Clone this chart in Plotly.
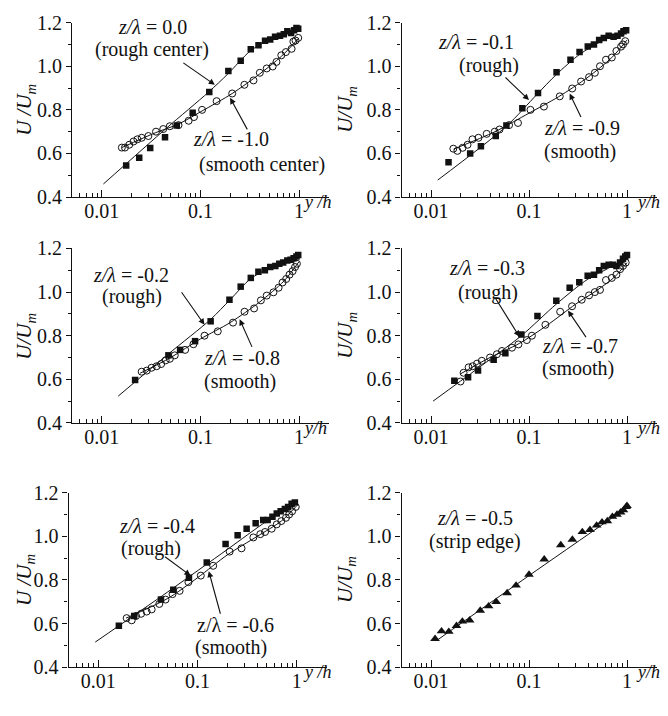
import math
import plotly.graph_objects as go

W, H = 668, 716
FONT = "Liberation Serif"

# ---------------- data ----------------
# Panel 1: z/lambda = 0.0 (rough center) and -1.0 (smooth center)
p1_rough_x = [0.0177, 0.024, 0.031, 0.0438, 0.0576, 0.0835, 0.123, 0.192, 0.256, 0.324, 0.388,
              0.452, 0.51, 0.571, 0.64, 0.70, 0.76, 0.83, 0.89, 0.94, 0.98]
p1_rough_y = [0.545, 0.58, 0.625, 0.675, 0.728, 0.787, 0.882, 0.978, 1.025, 1.078, 1.096,
              1.117, 1.123, 1.135, 1.14, 1.147, 1.16, 1.153, 1.165, 1.175, 1.172]
p1_smooth_x = [0.016, 0.0172, 0.019, 0.021, 0.023, 0.0254, 0.0297, 0.0355, 0.042, 0.049, 0.060,
               0.076, 0.086, 0.104, 0.146, 0.21, 0.279, 0.345, 0.40, 0.47, 0.54, 0.59, 0.66,
               0.735, 0.84, 0.875, 0.92, 0.98]
p1_smooth_y = [0.627, 0.627, 0.64, 0.655, 0.665, 0.672, 0.68, 0.70, 0.712, 0.725, 0.73,
               0.75, 0.767, 0.80, 0.84, 0.875, 0.915, 0.935, 0.97, 0.99, 0.999, 1.02, 1.05,
               1.065, 1.08, 1.113, 1.118, 1.13]
p1_rough_fit_x = [0.0104, 0.045, 0.12, 0.19, 0.32, 0.47, 0.7, 1.0]
p1_rough_fit_y = [0.46, 0.715, 0.88, 0.965, 1.07, 1.115, 1.145, 1.17]
p1_smooth_fit_x = [0.016, 0.035, 0.06, 0.104, 0.21, 0.40, 0.66, 1.0]
p1_smooth_fit_y = [0.627, 0.695, 0.735, 0.795, 0.875, 0.965, 1.045, 1.13]

# Panel 2: z/lambda = -0.1 (rough) and -0.9 (smooth)
p2_rough_x = [0.0151, 0.0251, 0.0323, 0.0458, 0.0588, 0.0855, 0.1236, 0.191, 0.265, 0.328,
              0.398, 0.46, 0.52, 0.58, 0.65, 0.73, 0.80, 0.87, 0.92, 0.98]
p2_rough_y = [0.56, 0.60, 0.633, 0.68, 0.728, 0.807, 0.877, 0.973, 1.03, 1.065,
              1.09, 1.10, 1.12, 1.13, 1.14, 1.135, 1.14, 1.15, 1.16, 1.165]
p2_smooth_x = [0.0169, 0.0186, 0.021, 0.0236, 0.0265, 0.0305, 0.037, 0.0447, 0.050, 0.0626,
               0.0772, 0.1035, 0.142, 0.206, 0.276, 0.34, 0.41, 0.47, 0.53, 0.61, 0.70,
               0.78, 0.87, 0.91, 0.96]
p2_smooth_y = [0.622, 0.612, 0.626, 0.64, 0.665, 0.672, 0.69, 0.70, 0.71, 0.73,
               0.74, 0.80, 0.815, 0.862, 0.898, 0.93, 0.95, 0.97, 1.00, 1.03, 1.04,
               1.07, 1.09, 1.10, 1.115]
p2_rough_fit_x = [0.0117, 0.0588, 0.12, 0.19, 0.33, 0.55, 1.0]
p2_rough_fit_y = [0.478, 0.725, 0.87, 0.962, 1.055, 1.115, 1.165]
p2_smooth_fit_x = [0.017, 0.045, 0.1, 0.2, 0.4, 0.7, 1.0]
p2_smooth_fit_y = [0.62, 0.70, 0.785, 0.86, 0.95, 1.04, 1.12]

# Panel 3: z/lambda = -0.2 (rough) and -0.8 (smooth)
p3_rough_x = [0.0218, 0.0474, 0.0623, 0.0883, 0.127, 0.197, 0.256, 0.324, 0.387, 0.45,
              0.51, 0.575, 0.63, 0.69, 0.76, 0.82, 0.88, 0.94, 0.98]
p3_rough_y = [0.597, 0.71, 0.735, 0.775, 0.866, 0.965, 1.025, 1.065, 1.093, 1.10,
              1.115, 1.12, 1.13, 1.136, 1.145, 1.148, 1.155, 1.163, 1.17]
p3_smooth_x = [0.0254, 0.0286, 0.032, 0.036, 0.040, 0.0445, 0.049, 0.055, 0.070, 0.085,
               0.11, 0.15, 0.214, 0.28, 0.35, 0.41, 0.47, 0.55, 0.62, 0.68, 0.74,
               0.80, 0.86, 0.91, 0.95]
p3_smooth_y = [0.635, 0.64, 0.653, 0.66, 0.67, 0.687, 0.694, 0.71, 0.735, 0.761,
               0.80, 0.82, 0.86, 0.91, 0.925, 0.962, 0.984, 0.999, 1.02, 1.044, 1.06,
               1.08, 1.096, 1.115, 1.13]
p3_rough_fit_x = [0.0147, 0.047, 0.127, 0.2, 0.32, 0.5, 0.75, 1.0]
p3_rough_fit_y = [0.523, 0.715, 0.875, 0.965, 1.06, 1.11, 1.14, 1.165]
p3_smooth_fit_x = [0.0245, 0.05, 0.1, 0.2, 0.4, 0.7, 1.0]
p3_smooth_fit_y = [0.628, 0.70, 0.785, 0.86, 0.955, 1.05, 1.14]

# Panel 4: z/lambda = -0.3 (rough) and -0.7 (smooth)
p4_rough_x = [0.0173, 0.0239, 0.0302, 0.0436, 0.0574, 0.0836, 0.122, 0.19, 0.26, 0.326,
              0.397, 0.46, 0.52, 0.58, 0.65, 0.72, 0.78, 0.85, 0.91, 0.96, 1.0]
p4_rough_y = [0.593, 0.61, 0.64, 0.69, 0.72, 0.805, 0.89, 0.96, 1.02, 1.045,
              1.075, 1.08, 1.10, 1.12, 1.125, 1.125, 1.12, 1.136, 1.153, 1.163, 1.17]
p4_smooth_x = [0.020, 0.0215, 0.0242, 0.0266, 0.0295, 0.033, 0.040, 0.047, 0.053, 0.067,
               0.078, 0.095, 0.107, 0.147, 0.208, 0.275, 0.345, 0.41, 0.47, 0.53, 0.61,
               0.70, 0.78, 0.85, 0.91, 0.97]
p4_smooth_y = [0.59, 0.63, 0.655, 0.66, 0.672, 0.685, 0.70, 0.715, 0.73, 0.745,
               0.76, 0.78, 0.80, 0.85, 0.91, 0.935, 0.965, 0.985, 1.00, 1.01, 1.055,
               1.065, 1.08, 1.105, 1.12, 1.135]
p4_rough_fit_x = [0.0105, 0.03, 0.0836, 0.19, 0.40, 0.65, 1.0]
p4_rough_fit_y = [0.50, 0.65, 0.80, 0.945, 1.06, 1.11, 1.16]
p4_smooth_fit_x = [0.02, 0.04, 0.08, 0.15, 0.3, 0.5, 0.75, 1.0]
p4_smooth_fit_y = [0.625, 0.70, 0.765, 0.845, 0.945, 1.01, 1.07, 1.135]

# Panel 5: z/lambda = -0.4 (rough) and -0.6 (smooth)
p5_rough_x = [0.0161, 0.023, 0.0428, 0.057, 0.082, 0.124, 0.192, 0.254, 0.313, 0.386,
              0.46, 0.51, 0.57, 0.63, 0.69, 0.76, 0.82, 0.89, 0.96]
p5_rough_y = [0.59, 0.635, 0.71, 0.755, 0.81, 0.88, 0.965, 1.005, 1.035, 1.06,
              1.075, 1.075, 1.09, 1.105, 1.115, 1.125, 1.135, 1.15, 1.155]
p5_smooth_x = [0.0193, 0.0217, 0.024, 0.027, 0.0307, 0.0345, 0.0412, 0.0476, 0.056, 0.066,
               0.081, 0.108, 0.144, 0.211, 0.278, 0.366, 0.43, 0.48, 0.56, 0.63, 0.70,
               0.78, 0.84, 0.90, 0.98]
p5_smooth_y = [0.625, 0.615, 0.635, 0.645, 0.655, 0.665, 0.69, 0.71, 0.735, 0.75,
               0.79, 0.82, 0.865, 0.93, 0.945, 0.995, 1.01, 1.02, 1.035, 1.055, 1.07,
               1.085, 1.10, 1.115, 1.135]
p5_rough_fit_x = [0.0093, 0.05, 0.2, 0.5, 1.0]
p5_rough_fit_y = [0.515, 0.745, 0.94, 1.07, 1.155]
p5_smooth_fit_x = [0.019, 0.05, 0.1, 0.2, 0.4, 0.7, 1.0]
p5_smooth_fit_y = [0.625, 0.715, 0.81, 0.915, 1.0, 1.07, 1.14]

# Panel 6: z/lambda = -0.5 (strip edge)
p6_edge_x = [0.011, 0.0128, 0.0152, 0.0182, 0.0209, 0.0248, 0.0318, 0.0387, 0.0463, 0.0598,
             0.0738, 0.1, 0.143, 0.211, 0.277, 0.35, 0.419, 0.49, 0.556, 0.63, 0.71,
             0.79, 0.86, 0.92, 0.98, 1.0]
p6_edge_y = [0.53, 0.565, 0.563, 0.59, 0.61, 0.615, 0.66, 0.68, 0.70, 0.74,
             0.775, 0.825, 0.895, 0.96, 0.985, 1.02, 1.03, 1.05, 1.065, 1.07, 1.09,
             1.10, 1.11, 1.12, 1.135, 1.14]
p6_fit_x = [0.0114, 0.1, 1.0]
p6_fit_y = [0.522, 0.82, 1.132]

x_tick_vals = [0.01, 0.1, 1]
x_tick_text = ["0.01", "0.1", "1"]
y_tick_vals = [0.4, 0.6, 0.8, 1.0, 1.2]
y_tick_text = ["0.4", "0.6", "0.8", "1.0", "1.2"]
x_minor_vals = [0.006, 0.007, 0.008, 0.009,
                0.02, 0.03, 0.04, 0.05, 0.06, 0.07, 0.08, 0.09,
                0.2, 0.3, 0.4, 0.5, 0.6, 0.7, 0.8, 0.9, 2]
y_minor_vals = [0.5, 0.7, 0.9, 1.1]

# ---------------- layout geometry (pixels) ----------------
# (x0, x1, ytop, ybottom)
boxes = [
    (72.0, 328.8, 12, 192),
    (401.5, 656.5, 12, 192),
    (72.0, 328.8, 245, 425),
    (401.5, 656.5, 245, 425),
    (68.5, 326.5, 497, 677),
    (401.5, 656.5, 497, 677),
]


def px(x):
    return x / W


def py(y):
    return 1 - y / H


fig = go.Figure()

panels = [
    dict(rough=(p1_rough_x, p1_rough_y), smooth=(p1_smooth_x, p1_smooth_y),
         fits=[(p1_rough_fit_x, p1_rough_fit_y), (p1_smooth_fit_x, p1_smooth_fit_y)],
         ytitle="<i>U /U<sub>m</sub></i>", xtitle="<i>y /h</i>"),
    dict(rough=(p2_rough_x, p2_rough_y), smooth=(p2_smooth_x, p2_smooth_y),
         fits=[(p2_rough_fit_x, p2_rough_fit_y), (p2_smooth_fit_x, p2_smooth_fit_y)],
         ytitle="<i>U/U<sub>m</sub></i>", xtitle="<i>y/h</i>"),
    dict(rough=(p3_rough_x, p3_rough_y), smooth=(p3_smooth_x, p3_smooth_y),
         fits=[(p3_rough_fit_x, p3_rough_fit_y), (p3_smooth_fit_x, p3_smooth_fit_y)],
         ytitle="<i>U/U<sub>m</sub></i>", xtitle="<i>y/h</i>"),
    dict(rough=(p4_rough_x, p4_rough_y), smooth=(p4_smooth_x, p4_smooth_y),
         fits=[(p4_rough_fit_x, p4_rough_fit_y), (p4_smooth_fit_x, p4_smooth_fit_y)],
         ytitle="<i>U/U<sub>m</sub></i>", xtitle="<i>y/h</i>"),
    dict(rough=(p5_rough_x, p5_rough_y), smooth=(p5_smooth_x, p5_smooth_y),
         fits=[(p5_rough_fit_x, p5_rough_fit_y), (p5_smooth_fit_x, p5_smooth_fit_y)],
         ytitle="<i>U /U<sub>m</sub></i>", xtitle="<i>y /h</i>"),
    dict(edge=(p6_edge_x, p6_edge_y), fits=[(p6_fit_x, p6_fit_y)],
         ytitle="<i>U/U<sub>m</sub></i>", xtitle="<i>y/h</i>"),
]

annotations = []
layout_axes = {}
for i, (p, box) in enumerate(zip(panels, boxes), start=1):
    xa = "x" if i == 1 else f"x{i}"
    ya = "y" if i == 1 else f"y{i}"
    for fx, fy in p["fits"]:
        fig.add_trace(go.Scatter(x=fx, y=fy, mode="lines", xaxis=xa, yaxis=ya,
                                 line=dict(color="#111", width=1, shape="spline", smoothing=0.8),
                                 hoverinfo="skip"))
    if "smooth" in p:
        fig.add_trace(go.Scatter(x=p["smooth"][0], y=p["smooth"][1], mode="markers",
                                 xaxis=xa, yaxis=ya,
                                 marker=dict(symbol="circle-open", size=7, color="#111",
                                             line=dict(width=1, color="#111"))))
    if "rough" in p:
        fig.add_trace(go.Scatter(x=p["rough"][0], y=p["rough"][1], mode="markers",
                                 xaxis=xa, yaxis=ya,
                                 marker=dict(symbol="square", size=6.5, color="#111")))
    if "edge" in p:
        fig.add_trace(go.Scatter(x=p["edge"][0], y=p["edge"][1], mode="markers",
                                 xaxis=xa, yaxis=ya,
                                 marker=dict(symbol="triangle-up", size=8.5, color="#111")))

    x0, x1, yt, yb = box
    key = "" if i == 1 else str(i)
    layout_axes[f"xaxis{key}"] = dict(
        type="log", range=[math.log10(0.005), math.log10(2)],
        domain=[px(x0), px(x1)], anchor=ya,
        showline=True, linecolor="#111", linewidth=1.2, showgrid=False, zeroline=False,
        tickmode="array", tickvals=x_tick_vals, ticktext=x_tick_text,
        ticks="inside", ticklen=7, tickwidth=1.2, tickcolor="#111",
        ticklabelstandoff=-4,
        minor=dict(tickmode="array", tickvals=x_minor_vals, ticks="inside",
                   ticklen=4, tickwidth=1, tickcolor="#111", showgrid=False),
        tickfont=dict(family=FONT, size=20, color="#111"),
    )
    layout_axes[f"yaxis{key}"] = dict(
        range=[0.4, 1.2], domain=[py(yb), py(yt)], anchor=xa,
        showline=True, linecolor="#111", linewidth=1.2, showgrid=False, zeroline=False,
        tickmode="array", tickvals=y_tick_vals, ticktext=y_tick_text,
        ticks="outside", ticklen=5, tickwidth=1.2, tickcolor="#111",
        minor=dict(tickmode="array", tickvals=y_minor_vals, ticks="outside",
                   ticklen=3, tickwidth=1, tickcolor="#111", showgrid=False),
        tickfont=dict(family=FONT, size=20, color="#111"),
    )
    # axis titles
    ytx = 25 if x0 < 200 else 346
    annotations.append(dict(text=p["ytitle"], x=px(ytx), y=py((yt + yb) / 2),
                            xref="paper", yref="paper", showarrow=False, textangle=-90,
                            font=dict(family=FONT, size=21, color="#111"),
                            xanchor="center", yanchor="middle"))
    xtx = 301 if x0 < 200 else 634
    annotations.append(dict(text=p["xtitle"], x=px(xtx), y=py(yb + 5),
                            xref="paper", yref="paper", showarrow=False,
                            font=dict(family=FONT, size=18, color="#111"),
                            xanchor="left", yanchor="middle"))

# ---------------- panel labels ----------------
labels = [
    ("<i>z/λ</i> = 0.0", 152, 17), ("(rough center)", 152, 40),
    ("<i>z/λ</i> = -1.0", 231, 132), ("(smooth center)", 262, 158),
    ("<i>z/λ</i> = -0.1", 476, 32), ("(rough)", 489, 56),
    ("<i>z/λ</i> = -0.9", 582, 121), ("(smooth)", 580, 145),
    ("<i>z/λ</i> = -0.2", 131, 272), ("(rough)", 132, 295),
    ("<i>z/λ</i> = -0.8", 242, 358), ("(smooth)", 240, 382),
    ("<i>z/λ</i> = -0.3", 487, 265), ("(rough)", 488, 290),
    ("<i>z/λ</i> = -0.7", 580, 346), ("(smooth)", 578, 369),
    ("<i>z/λ</i> = -0.4", 157, 531), ("(rough)", 151, 555),
    ("z/λ = -0.6", 235, 633), ("(smooth)", 231, 657),
    ("<i>z/λ</i> = -0.5", 475, 523), ("(strip edge)", 475, 547),
]
for t, lx, ly in labels:
    annotations.append(dict(text=t, x=px(lx), y=py(ly), xref="paper", yref="paper",
                            showarrow=False, xanchor="center", yanchor="middle",
                            font=dict(family=FONT, size=20, color="#111")))

# arrows: (panel index, tip x data, tip y data, tail dx px, tail dy px)
arrows = [
    (1, 0.14, 0.915, -33, -23),
    (1, 0.20, 0.855, 18, 33),
    (2, 0.10, 0.845, -25, -24),
    (2, 0.26, 0.875, 12, 25),
    (3, 0.11, 0.85, -24, -34),
    (3, 0.25, 0.875, 13, 29),
    (4, 0.08, 0.795, -25, -40),
    (4, 0.25, 0.915, 19, 28),
    (5, 0.085, 0.82, -27, -20),
    (5, 0.13, 0.84, 12, 44),
]
for (k, tx, ty, dx, dy) in arrows:
    xa = "x" if k == 1 else f"x{k}"
    ya = "y" if k == 1 else f"y{k}"
    annotations.append(dict(text="", x=math.log10(tx), y=ty, xref=xa, yref=ya,
                            showarrow=True, ax=dx, ay=dy, arrowhead=2, arrowsize=1.1,
                            arrowwidth=1.1, arrowcolor="#111"))

fig.update_layout(
    width=W, height=H, margin=dict(l=0, r=0, t=0, b=0),
    paper_bgcolor="white", plot_bgcolor="white", showlegend=False,
    font=dict(family=FONT, color="#111"),
    annotations=annotations, **layout_axes,
)

fig.write_html("out.html")
